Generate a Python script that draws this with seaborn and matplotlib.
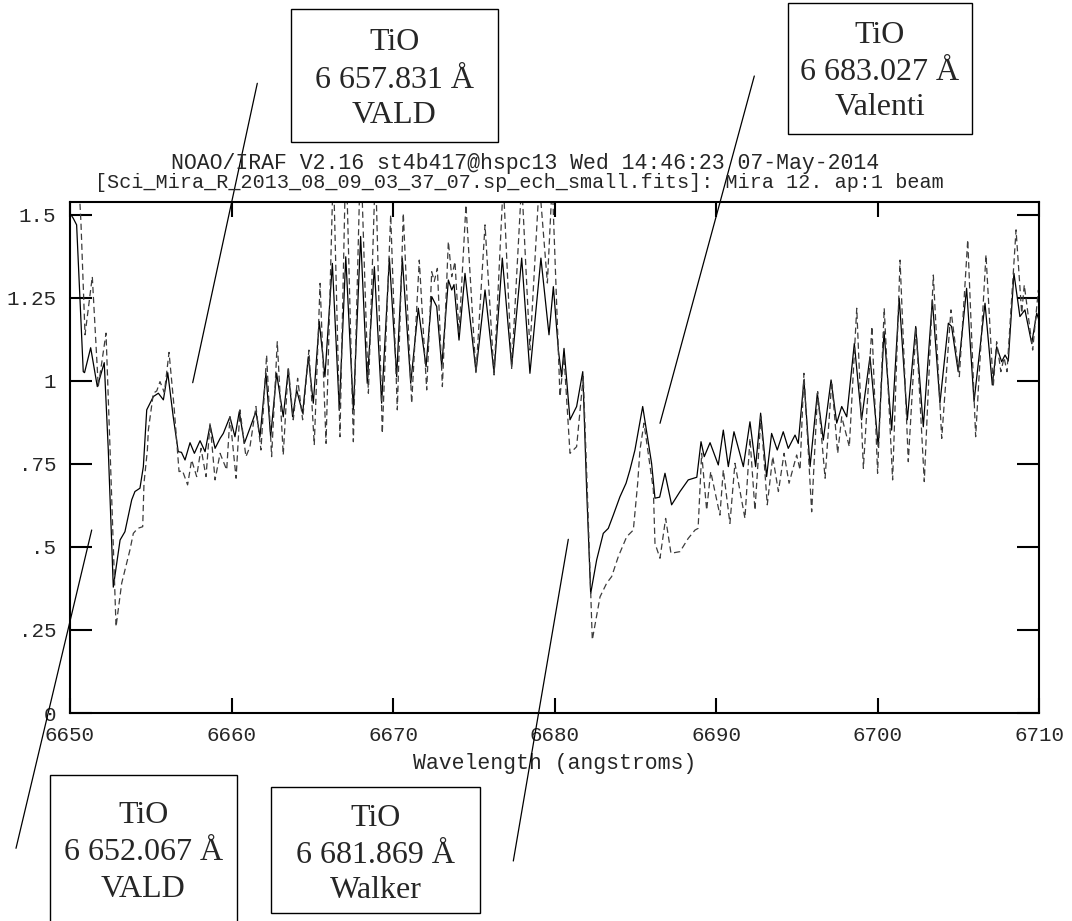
# ---- IRAF splot of Mira spectrum with TiO line labels ---- #
import matplotlib
matplotlib.use("Agg")
import matplotlib.pyplot as plt
from matplotlib.patches import Rectangle
from matplotlib.lines import Line2D
import seaborn as sns


# ---- data (wavelength in angstroms, normalised flux) ---- #
solid_x = [6650.0, 6650.2, 6650.41, 6650.82, 6650.9, 6651.28, 6651.69, 6652.12, 6652.37, 6652.68,
           6653.10, 6653.40, 6653.82, 6654.02, 6654.33, 6654.54, 6654.75, 6655.16, 6655.47, 6655.78,
           6656.05, 6656.39, 6656.70, 6656.90, 6657.12, 6657.43, 6657.70, 6658.05, 6658.36, 6658.67,
           6658.98, 6659.29, 6659.49, 6659.90, 6660.21, 6660.48, 6660.79, 6661.14, 6661.51, 6661.76,
           6662.13, 6662.42, 6662.79, 6663.20, 6663.51, 6663.78, 6664.03, 6664.40, 6664.75, 6665.06,
           6665.43, 6665.78, 6666.24, 6666.67, 6667.07, 6667.54, 6667.99, 6668.40, 6668.84, 6669.29,
           6669.77, 6670.22, 6670.57, 6671.09, 6671.56, 6672.04, 6672.39, 6672.70, 6673.01, 6673.42,
           6673.63, 6673.77, 6674.08, 6674.45, 6675.13, 6675.69, 6676.25, 6676.76, 6677.34, 6677.96,
           6678.47, 6679.15, 6679.65, 6679.92, 6680.23, 6680.43, 6680.58, 6680.95, 6681.36, 6681.74,
           6681.98, 6682.23, 6682.60, 6683.01, 6683.32, 6683.63, 6684.04, 6684.42, 6684.66, 6684.97,
           6685.45, 6686.00, 6686.21, 6686.50, 6686.83, 6687.24, 6687.76, 6688.27, 6688.80, 6689.06,
           6689.26, 6689.62, 6690.13, 6690.44, 6690.75, 6691.10, 6691.68, 6692.09, 6692.44, 6692.75,
           6693.12, 6693.43, 6693.78, 6694.15, 6694.46, 6694.88, 6695.08, 6695.43, 6695.81, 6696.26,
           6696.63, 6697.11, 6697.46, 6697.77, 6698.08, 6698.55, 6699.00, 6699.52, 6700.03, 6700.39,
           6700.86, 6701.33, 6701.83, 6702.35, 6702.82, 6703.38, 6703.85, 6704.37, 6704.57, 6704.98,
           6705.50, 6705.96, 6706.64, 6707.09, 6707.36, 6707.67, 6707.88, 6708.08, 6708.43, 6708.80,
           6709.11, 6709.53, 6709.84, 6710.0]
solid_y = [1.505, 1.49, 1.47, 1.028, 1.025, 1.10, 0.983, 1.055, 0.792, 0.379,
           0.521, 0.546, 0.642, 0.667, 0.677, 0.742, 0.913, 0.953, 0.963, 0.943,
           1.025, 0.892, 0.787, 0.785, 0.762, 0.814, 0.782, 0.820, 0.787, 0.867,
           0.797, 0.827, 0.842, 0.892, 0.832, 0.908, 0.812, 0.858, 0.908, 0.832,
           1.023, 0.832, 1.023, 0.892, 1.033, 0.892, 0.973, 0.903, 1.073, 0.933,
           1.179, 1.013, 1.354, 0.913, 1.374, 0.913, 1.435, 0.993, 1.344, 0.933,
           1.370, 1.013, 1.370, 0.993, 1.219, 1.043, 1.254, 1.224, 1.043, 1.304,
           1.274, 1.29, 1.123, 1.324, 1.028, 1.274, 1.023, 1.370, 1.043, 1.370,
           1.023, 1.370, 1.139, 1.284, 1.093, 1.013, 1.098, 0.883, 0.923, 1.028,
           0.672, 0.360, 0.461, 0.541, 0.556, 0.596, 0.651, 0.692, 0.732, 0.792,
           0.923, 0.752, 0.647, 0.650, 0.722, 0.627, 0.667, 0.702, 0.71, 0.817,
           0.772, 0.814, 0.747, 0.852, 0.742, 0.847, 0.742, 0.877, 0.742, 0.903,
           0.712, 0.842, 0.792, 0.847, 0.797, 0.837, 0.812, 1.003, 0.742, 0.963,
           0.822, 1.003, 0.873, 0.923, 0.892, 1.113, 0.883, 1.073, 0.802, 1.149,
           0.852, 1.249, 0.883, 1.164, 0.862, 1.244, 0.933, 1.174, 1.164, 1.028,
           1.279, 0.938, 1.234, 0.988, 1.103, 1.058, 1.078, 1.060, 1.324, 1.194,
           1.214, 1.113, 1.204, 1.18]

dash_x = [6650.0, 6650.60, 6650.68, 6650.93, 6651.38, 6651.75, 6652.23, 6652.48, 6652.85, 6653.20,
          6653.51, 6653.71, 6653.92, 6654.19, 6654.50, 6654.58, 6654.79, 6654.85, 6655.16, 6655.37,
          6655.57, 6655.84, 6656.13, 6656.44, 6656.75, 6656.96, 6657.28, 6657.53, 6657.84, 6658.11,
          6658.42, 6658.67, 6658.98, 6659.29, 6659.70, 6659.90, 6660.28, 6660.52, 6660.89, 6661.14,
          6661.51, 6661.82, 6662.17, 6662.48, 6662.83, 6663.20, 6663.51, 6663.82, 6664.09, 6664.40,
          6664.79, 6665.12, 6665.48, 6665.85, 6666.30, 6666.71, 6667.08, 6667.54, 6667.99, 6668.47,
          6668.91, 6669.33, 6669.85, 6670.26, 6670.63, 6671.15, 6671.62, 6672.08, 6672.39, 6672.55,
          6672.74, 6673.05, 6673.42, 6673.63, 6673.83, 6674.08, 6674.51, 6675.13, 6675.69, 6676.25,
          6676.82, 6677.34, 6677.96, 6678.47, 6679.05, 6679.55, 6679.85, 6680.33, 6680.58, 6680.95,
          6681.36, 6681.77, 6682.02, 6682.33, 6682.81, 6683.22, 6683.53, 6683.94, 6684.46, 6684.87,
          6685.14, 6685.28, 6685.53, 6686.11, 6686.21, 6686.52, 6686.87, 6687.20, 6687.76, 6688.27,
          6688.69, 6688.88, 6689.10, 6689.41, 6689.66, 6690.23, 6690.44, 6690.85, 6691.16, 6691.78,
          6692.09, 6692.40, 6692.77, 6693.16, 6693.50, 6693.85, 6694.20, 6694.51, 6694.98, 6695.19,
          6695.43, 6695.91, 6696.28, 6696.74, 6697.15, 6697.52, 6697.77, 6698.24, 6698.70, 6699.11,
          6699.64, 6699.99, 6700.40, 6700.92, 6701.38, 6701.89, 6702.37, 6702.88, 6703.44, 6703.96,
          6704.53, 6705.05, 6705.57, 6706.06, 6706.70, 6707.15, 6707.36, 6707.62, 6707.82, 6708.00,
          6708.56, 6708.91, 6709.07, 6709.59, 6709.94]
dash_y = [1.65, 1.55, 1.475, 1.139, 1.314, 0.983, 1.144, 0.792, 0.260, 0.391,
          0.451, 0.491, 0.541, 0.556, 0.561, 0.692, 0.792, 0.852, 0.963, 0.970,
          0.998, 0.965, 1.086, 0.923, 0.727, 0.730, 0.687, 0.762, 0.712, 0.797,
          0.712, 0.873, 0.702, 0.782, 0.732, 0.892, 0.707, 0.913, 0.772, 0.802,
          0.923, 0.792, 1.078, 0.772, 1.118, 0.777, 1.043, 0.883, 1.008, 0.883,
          1.093, 0.807, 1.294, 0.812, 1.65, 0.832, 1.70, 0.817, 1.70, 0.963,
          1.65, 0.842, 1.50, 0.913, 1.505, 0.933, 1.364, 0.973, 1.329, 1.30,
          1.339, 0.983, 1.420, 1.314, 1.359, 1.144, 1.53, 1.023, 1.47, 1.018,
          1.60, 1.038, 1.60, 1.093, 1.60, 1.295, 1.60, 0.953, 1.073, 0.782,
          0.802, 1.013, 0.672, 0.220, 0.350, 0.391, 0.411, 0.471, 0.531, 0.551,
          0.692, 0.792, 0.873, 0.672, 0.511, 0.466, 0.586, 0.481, 0.486, 0.526,
          0.551, 0.556, 0.782, 0.611, 0.727, 0.596, 0.732, 0.571, 0.752, 0.586,
          0.827, 0.611, 0.892, 0.627, 0.772, 0.667, 0.782, 0.692, 0.777, 0.732,
          1.023, 0.606, 0.968, 0.707, 0.998, 0.782, 0.892, 0.802, 1.219, 0.737,
          1.164, 0.722, 1.219, 0.702, 1.364, 0.757, 1.164, 0.697, 1.319, 0.827,
          1.214, 1.013, 1.425, 0.832, 1.380, 0.983, 1.118, 1.028, 1.070, 1.028,
          1.455, 1.204, 1.289, 1.093, 1.274]

xticks = [6650, 6660, 6670, 6680, 6690, 6700, 6710]
yticks = [0, 0.25, 0.5, 0.75, 1.0, 1.25, 1.5]
ytick_labels = ['0', '.25', '.5', '.75', '1', '1.25', '1.5']

title_lines = ['NOAO/IRAF V2.16 st4b417@hspc13 Wed 14:46:23 07-May-2014',
               '[Sci_Mira_R_2013_08_09_03_37_07.sp_ech_small.fits]: Mira 12. ap:1 beam']

line_labels = [['TiO', '6 657.831 Å', 'VALD'],
               ['TiO', '6 683.027 Å', 'Valenti'],
               ['TiO', '6 652.067 Å', 'VALD'],
               ['TiO', '6 681.869 Å', 'Walker']]


# ---- figure setup ---- #
sns.set_style("ticks")
plt.rcParams['font.family'] = ['Liberation Mono', 'DejaVu Sans Mono']

W, H = 1072, 921
fig = plt.figure(figsize=(W / 100, H / 100), dpi=100)


def fx(x):
    return x / W


def fy(y):
    return 1 - y / H


ax = fig.add_axes([fx(70), fy(713), (1039.3 - 70) / W, (713 - 202.3) / H])

sns.lineplot(x=solid_x, y=solid_y, ax=ax, color='black', lw=0.9,
             sort=False, estimator=None)
sns.lineplot(x=dash_x, y=dash_y, ax=ax, color='#3c3c3c', lw=0.9,
             linestyle=(0, (5, 3)), sort=False, estimator=None)

ax.set_xlim(6650, 6710)
ax.set_ylim(0, 1.538)
ax.set_xticks(xticks)
ax.set_xticklabels([str(t) for t in xticks])
ax.set_yticks(yticks)
ax.set_yticklabels(ytick_labels)
ax.tick_params(direction='in', top=True, right=True, labelsize=15, width=1.5, color='black')
ax.tick_params(axis='x', length=11, pad=9)
ax.tick_params(axis='y', length=16, pad=10)
for s in ax.spines.values():
    s.set_linewidth(1.5)
    s.set_color('black')
ax.set_xlabel('Wavelength (angstroms)', fontsize=15.5, labelpad=6)
ax.set_ylabel('')

# ---- IRAF header ---- #
fig.text(fx(525), fy(169.3), title_lines[0], ha='center', va='baseline', fontsize=15.5)
fig.text(fx(519), fy(188.5), title_lines[1], ha='center', va='baseline', fontsize=14.5)

# ---- label boxes (pixel coords: left, top, right, bottom, baselines) ---- #
boxes = [(290.7, 9, 497.7, 142, [50, 88.3, 122.7]),
         (787.7, 2.7, 972, 134, [43.3, 80, 115]),
         (50, 775, 236.7, 930, [823.3, 860, 896.7]),
         (270.7, 787.3, 480, 913.3, [826, 862.7, 898.3])]

for (x0, y0, x1, y1, bases), lines in zip(boxes, line_labels):
    fig.add_artist(Rectangle((fx(x0), fy(y1)), (x1 - x0) / W, (y1 - y0) / H,
                             transform=fig.transFigure, fill=False, lw=1, ec='black'))
    for b, t in zip(bases, lines):
        fig.text(fx((x0 + x1) / 2), fy(b), t, ha='center', va='baseline',
                 fontsize=23, family='Liberation Serif')

# ---- pointer lines ---- #
pointers = [((257.3, 83.3), (192.7, 382.7)),
            ((754.3, 76), (660, 423.3)),
            ((91.7, 530), (16, 848.3)),
            ((568.3, 539.3), (513.3, 861))]
for (xa, ya), (xb, yb) in pointers:
    fig.add_artist(Line2D([fx(xa), fx(xb)], [fy(ya), fy(yb)],
                          transform=fig.transFigure, color='black', lw=0.9))

fig.savefig('out.png', dpi=100)
